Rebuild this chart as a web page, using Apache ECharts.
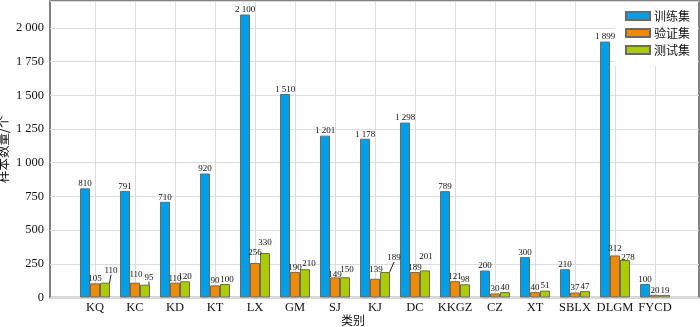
<!DOCTYPE html>
<html>
<head>
<meta charset="utf-8">
<script src="https://cdn.jsdelivr.net/npm/echarts@6/dist/echarts.min.js"></script>
<style>
  html, body { margin: 0; padding: 0; background: #fff; }
  #chart { width: 700px; height: 327px; }
</style>
</head>
<body>
<div id="chart"></div>
<script>
// Sample counts per category for the three dataset splits
const categories = ['KQ', 'KC', 'KD', 'KT', 'LX', 'GM', 'SJ', 'KJ', 'DC', 'KKGZ', 'CZ', 'XT', 'SBLX', 'DLGM', 'FYCD'];
const trainCounts = [810, 791, 710, 920, 2100, 1510, 1201, 1178, 1298, 789, 200, 300, 210, 1899, 100];
const valCounts   = [105, 110, 110, 90, 256, 190, 149, 139, 189, 121, 30, 40, 37, 312, 20];
const testCounts  = [110, 95, 120, 100, 330, 210, 150, 189, 201, 98, 40, 51, 47, 278, 19];
const seriesNames = ['训练集', '验证集', '测试集'];
const yTicks = { min: 0, max: 2200, step: 250 };

const serif = '"Liberation Serif", "Times New Roman", serif';
const cjk = '"Noto Sans CJK SC", sans-serif';
const colors = ['#00A0E9', '#F28A00', '#ACCB00'];

// Numbers with a space as thousands separator, e.g. "2 100"
function fmt(v) {
  return String(v).replace(/\B(?=(\d{3})+(?!\d))/g, ' ');
}

// Nudges for crowded value labels: key = seriesIndex-dataIndex -> [dx, dy]
const labelNudge = {
  '1-1': [1, -4],
  '1-4': [0, -6],
  '1-6': [0, 2],
  '1-7': [1, -5],
  '1-13': [0, -2],
  '2-0': [6, -8],
  '2-1': [4, -3],
  '2-3': [2, 0],
  '2-4': [0, -6],
  '2-5': [4, -1],
  '2-6': [2, -3],
  '2-7': [9, -10],
  '2-8': [1, -9],
  '2-13': [3, 2]
};
// Labels that carry a leader line back to their bar
const leaderLines = { '2-0': true, '2-1': true, '2-7': true };

function makeSeries(idx, values) {
  return {
    name: seriesNames[idx],
    type: 'bar',
    xAxisIndex: 1,
    yAxisIndex: 1,
    barWidth: 10,
    barGap: '0%',
    clip: false,
    itemStyle: { color: colors[idx], borderColor: '#6a6a6a', borderWidth: 1 },
    label: {
      show: true,
      position: 'top',
      distance: 0,
      fontFamily: serif,
      fontSize: 9,
      color: '#111',
      formatter: p => fmt(p.value)
    },
    labelLine: { show: false, lineStyle: { color: '#222', width: 1 } },
    labelLayout: p => {
      const n = labelNudge[idx + '-' + p.dataIndex];
      return n ? { dx: n[0], dy: n[1] } : {};
    },
    data: values.map((v, i) => leaderLines[idx + '-' + i]
      ? { value: v, labelLine: { show: true, length2: 0 } }
      : v)
  };
}

const chart = echarts.init(document.getElementById('chart'), null, { renderer: 'canvas' });
chart.setOption({
  animation: false,
  backgroundColor: '#fff',
  title: {
    text: '类别',
    left: 341,
    top: 314,
    padding: 0,
    textStyle: { fontFamily: cjk, fontSize: 12, fontWeight: 'normal', color: '#111' }
  },
  legend: {
    data: seriesNames,
    orient: 'vertical',
    right: 2,
    top: 2,
    padding: [8, 8, 10, 10],
    backgroundColor: '#fff',
    itemWidth: 24,
    itemHeight: 8,
    itemGap: 5,
    icon: 'rect',
    textStyle: { fontFamily: cjk, fontSize: 12, color: '#111', padding: [0, 0, 0, -1] }
  },
  grid: [
    { left: 50, right: 1, top: 1, bottom: 29.5, show: true, borderColor: '#5a5a5a', borderWidth: 1.5, containLabel: false, outerBoundsMode: 'none' },
    { left: 95, right: 45, top: 1, bottom: 29.5, containLabel: false, outerBoundsMode: 'none' }
  ],
  xAxis: [
    { gridIndex: 0, type: 'value', min: 0, max: 1, show: false },
    {
      gridIndex: 1,
      type: 'category',
      data: categories,
      boundaryGap: false,
      axisLine: { show: false },
      axisTick: { show: false },
      axisLabel: { interval: 0, margin: 4, fontFamily: serif, fontSize: 12.5, color: '#111' },
      splitLine: { show: true, interval: 0, lineStyle: { color: '#dcdcdc', width: 1 } }
    }
  ],
  yAxis: [
    {
      gridIndex: 0,
      type: 'value',
      min: yTicks.min,
      max: yTicks.max,
      interval: yTicks.step,
      name: '样本数量/个',
      nameLocation: 'middle',
      nameGap: 40,
      nameMoveOverlap: false,
      nameTextStyle: { fontFamily: cjk, fontSize: 12.5, color: '#111' },
      axisLine: { show: false },
      axisTick: { show: false },
      axisLabel: {
        margin: 6,
        fontFamily: serif,
        fontSize: 12.5,
        color: '#111',
        formatter: v => (v % yTicks.step !== 0) ? '' : fmt(v)
      },
      splitLine: { show: true, lineStyle: { color: '#dcdcdc', width: 1 } }
    },
    {
      gridIndex: 1,
      type: 'value',
      min: yTicks.min,
      max: yTicks.max,
      interval: yTicks.step,
      show: false,
      splitLine: { show: false }
    }
  ],
  series: [
    makeSeries(0, trainCounts),
    makeSeries(1, valCounts),
    makeSeries(2, testCounts)
  ]
});
</script>
</body>
</html>
